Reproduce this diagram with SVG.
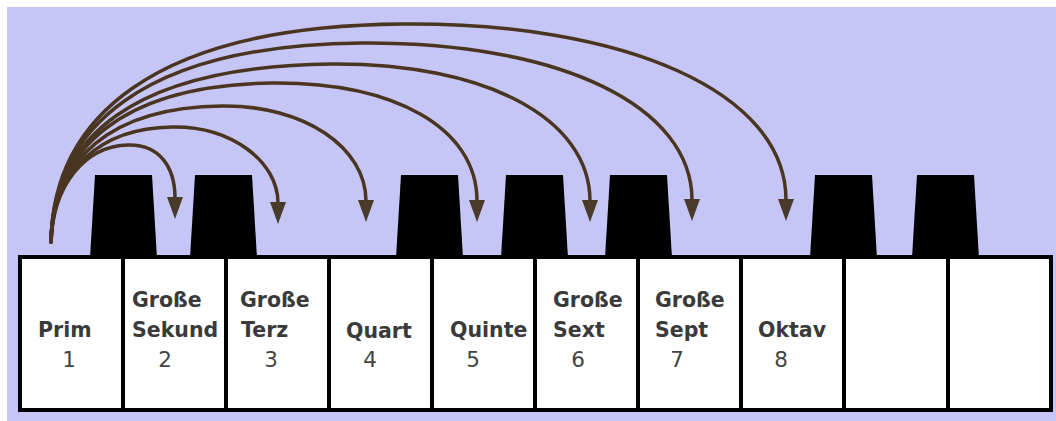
<svg xmlns="http://www.w3.org/2000/svg" width="1056" height="421" viewBox="0 0 1056 421">
<style>
.bg{fill:#c6c6f6}
.white{fill:#ffffff;stroke:#000;stroke-width:4}
.black{fill:#000}
.lbl{font-family:"DejaVu Sans",Verdana,sans-serif;font-weight:bold;font-size:20.5px;fill:#3a3a3a}
.num{font-family:"DejaVu Sans",Verdana,sans-serif;font-size:21.5px;fill:#444;text-anchor:middle}
.arc{fill:none;stroke:#4a3520;stroke-width:3.5;stroke-linecap:round;marker-end:url(#ah)}
</style>
<defs>
<marker id="ah" markerUnits="userSpaceOnUse" markerWidth="22" markerHeight="16" viewBox="0 0 22 16" refX="1" refY="8" orient="auto">
<path d="M0,0 L22,8 L0,16 z" fill="#4a3a2a"/>
</marker>
</defs>
<rect x="0" y="0" width="1056" height="421" fill="#ffffff"/>
<rect class="bg" x="7" y="7" width="1049" height="414"/>

<g id="key1"><rect class="white" x="20" y="257" width="103" height="153"/><text class="lbl" x="38" y="337">Prim</text><text class="num" x="69" y="367">1</text></g>
<g id="key2"><rect class="white" x="123" y="257" width="103" height="153"/><text class="lbl" x="132" y="307">Große</text><text class="lbl" x="132" y="337">Sekund</text><text class="num" x="165" y="367">2</text></g>
<g id="key3"><rect class="white" x="226" y="257" width="103" height="153"/><text class="lbl" x="240" y="307">Große</text><text class="lbl" x="241" y="337">Terz</text><text class="num" x="271" y="367">3</text></g>
<g id="key4"><rect class="white" x="329" y="257" width="103" height="153"/><text class="lbl" x="346" y="338">Quart</text><text class="num" x="370" y="367">4</text></g>
<g id="key5"><rect class="white" x="432" y="257" width="103" height="153"/><text class="lbl" x="450" y="337">Quinte</text><text class="num" x="473" y="367">5</text></g>
<g id="key6"><rect class="white" x="535" y="257" width="103" height="153"/><text class="lbl" x="553" y="307">Große</text><text class="lbl" x="553" y="337">Sext</text><text class="num" x="578" y="367">6</text></g>
<g id="key7"><rect class="white" x="638" y="257" width="103" height="153"/><text class="lbl" x="655" y="307">Große</text><text class="lbl" x="655" y="337">Sept</text><text class="num" x="677" y="367">7</text></g>
<g id="key8"><rect class="white" x="741" y="257" width="103" height="153"/><text class="lbl" x="758" y="337">Oktav</text><text class="num" x="781" y="367">8</text></g>
<g id="key9"><rect class="white" x="844" y="257" width="104" height="153"/></g>
<g id="key10"><rect class="white" x="948" y="257" width="103" height="153"/></g>

<g id="black-keys">
<polygon class="black" points="95,175 152,175 157,258 90,258"/>
<polygon class="black" points="195,175 252,175 257,258 190,258"/>
<polygon class="black" points="401,175 458,175 463,258 396,258"/>
<polygon class="black" points="506,175 563,175 568,258 501,258"/>
<polygon class="black" points="610,175 667,175 672,258 605,258"/>
<polygon class="black" points="815,175 872,175 877,258 810,258"/>
<polygon class="black" points="917,175 974,175 979,258 912,258"/>
</g>

<g id="connectors">
<path class="arc" d="M51,242 C53,185 85,146 128,145 C160,144 175,168 175,198"/>
<path class="arc" d="M51,242 C53,170 100,128 172,127 C232,126 278,162 278,203"/>
<path class="arc" d="M51,242 C53,160 110,107 222,106 C305,105 366,148 366,201"/>
<path class="arc" d="M51,242 C53,150 120,85 272,83 C395,82 477,128 477,201"/>
<path class="arc" d="M51,242 C53,140 130,66 332,64 C485,63 590,118 590,201"/>
<path class="arc" d="M51,242 C53,130 140,45 362,43 C565,42 692,108 692,200"/>
<path class="arc" d="M51,242 C53,120 150,26 402,24 C625,22 786,92 786,200"/>
</g>
</svg>
